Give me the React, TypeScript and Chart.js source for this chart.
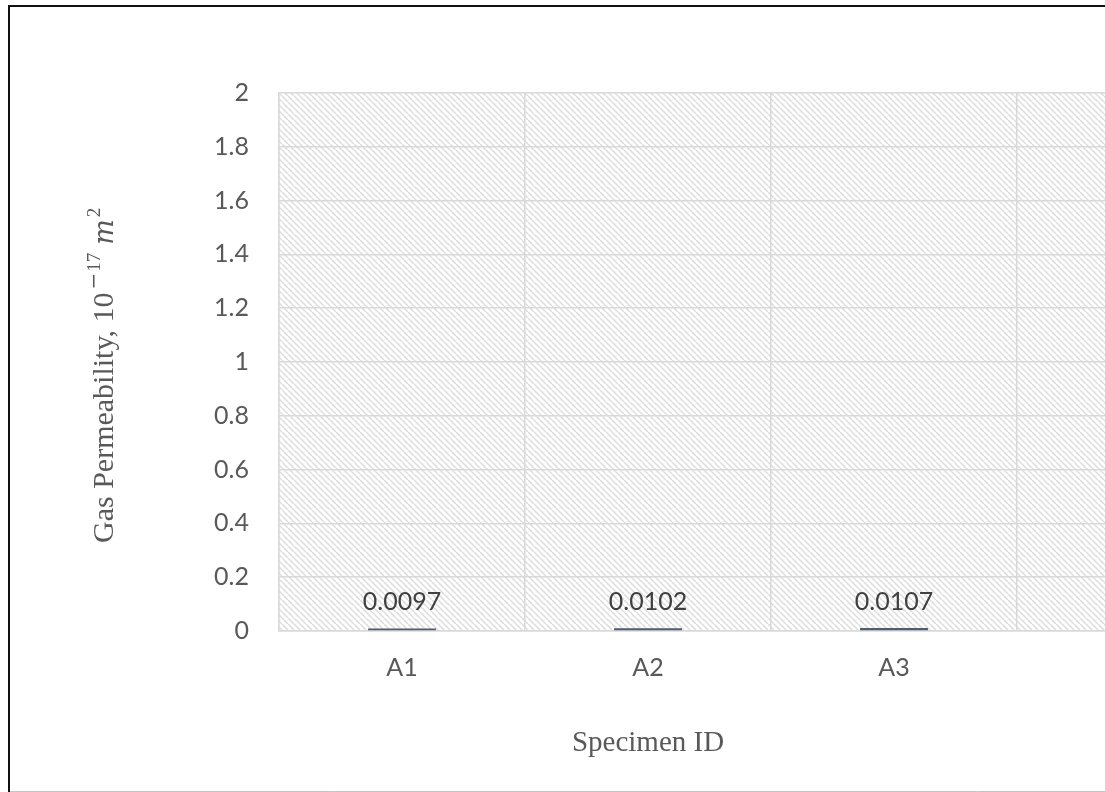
import React, { useEffect, useRef } from "react";
import { Chart, registerables } from "chart.js";

Chart.register(...registerables);

const categories = ["A1", "A2", "A3", ""];
const permeability: (number | null)[] = [0.0097, 0.0102, 0.0107, null];
const valueLabels = ["0.0097", "0.0102", "0.0107", ""];
const yTickLabels = ["0", "0.2", "0.4", "0.6", "0.8", "1", "1.2", "1.4", "1.6", "1.8", "2"];
const xTitle = "Specimen ID";
const yTitleMain = "Gas Permeability, 10";
const yTitleMinus = "\u2212";
const yTitleExp = "17";
const yTitleUnit = "m";
const yTitleUnitExp = "2";

const TEXT = "#595959";
const GRID = "#d9d9d9";
const SANS = "Lato";
const SERIF = "'Liberation Serif'";

const CANVAS_W = 1300;
const CANVAS_H = 792;

function makeHatch(): CanvasPattern | string {
  const t = document.createElement("canvas");
  t.width = 6;
  t.height = 6;
  const c = t.getContext("2d");
  if (!c) return "#eee";
  c.fillStyle = "#ffffff";
  c.fillRect(0, 0, 6, 6);
  c.strokeStyle = "#dcdcdc";
  c.lineWidth = 1.5;
  for (const o of [-6, 0, 6]) {
    c.beginPath();
    c.moveTo(o, 0);
    c.lineTo(o + 6, 6);
    c.stroke();
  }
  const p = c.createPattern(t, "repeat");
  return p || "#eee";
}

const backgroundPlugin = {
  id: "bgHatch",
  beforeDraw(chart: any) {
    const { ctx, chartArea } = chart;
    ctx.save();
    ctx.fillStyle = "#ffffff";
    ctx.fillRect(0, 0, chart.width, chart.height);
    ctx.fillStyle = makeHatch();
    ctx.fillRect(
      chartArea.left,
      chartArea.top,
      chartArea.right - chartArea.left,
      chartArea.bottom - chartArea.top
    );
    ctx.strokeStyle = "#111111";
    ctx.lineWidth = 2;
    ctx.beginPath();
    ctx.moveTo(9, 792);
    ctx.lineTo(9, 6);
    ctx.lineTo(chart.width, 6);
    ctx.stroke();
    ctx.strokeStyle = "#c4c4c4";
    ctx.lineWidth = 1;
    ctx.beginPath();
    ctx.moveTo(10, 791.5);
    ctx.lineTo(chart.width, 791.5);
    ctx.stroke();
    ctx.restore();
  },
};

const labelsPlugin = {
  id: "valueLabels",
  afterDatasetsDraw(chart: any) {
    const { ctx } = chart;
    const meta = chart.getDatasetMeta(0);
    ctx.save();
    ctx.font = `25px ${SANS}`;
    ctx.fillStyle = "#404040";
    ctx.textAlign = "center";
    ctx.textBaseline = "alphabetic";
    meta.data.forEach((el: any, i: number) => {
      if (permeability[i] == null) return;
      ctx.fillText(valueLabels[i], el.x, el.y - 18);
    });
    ctx.restore();
  },
};

const titlesPlugin = {
  id: "axisTitles",
  afterDraw(chart: any) {
    const { ctx } = chart;
    ctx.save();
    ctx.fillStyle = TEXT;
    ctx.textBaseline = "alphabetic";
    ctx.font = `29px ${SERIF}`;
    ctx.textAlign = "center";
    ctx.fillText(xTitle, 648, 751);

    // y title (rotated), reading bottom to top
    const mainFont = `30px ${SERIF}`;
    const supFont = `19px ${SERIF}`;
    const minusFont = `20px 'DejaVu Serif'`;
    const unitFont = `italic 27px 'DejaVu Serif'`;
    ctx.textAlign = "left";
    ctx.translate(113, 543);
    ctx.rotate(-Math.PI / 2);
    let x = 0;
    ctx.font = mainFont;
    ctx.fillText(yTitleMain, x, 0);
    x += ctx.measureText(yTitleMain).width + 3;
    ctx.font = minusFont;
    ctx.fillText(yTitleMinus, x, -13);
    x += ctx.measureText(yTitleMinus).width + 1;
    ctx.font = supFont;
    ctx.fillText(yTitleExp, x, -13);
    x += ctx.measureText(yTitleExp).width + 8;
    ctx.font = unitFont;
    ctx.fillText(yTitleUnit, x, 0);
    x += ctx.measureText(yTitleUnit).width + 2;
    ctx.font = supFont;
    ctx.fillText(yTitleUnitExp, x, -13);
    ctx.restore();
  },
};

export default function App() {
  const ref = useRef<HTMLCanvasElement | null>(null);

  useEffect(() => {
    if (!ref.current) return;
    const chart = new Chart(ref.current, {
      type: "bar",
      data: {
        labels: categories,
        datasets: [
          {
            label: "Gas Permeability",
            data: permeability,
            backgroundColor: "#4f5d73",
            borderWidth: 0,
            categoryPercentage: 1,
            barPercentage: 0.276,
          },
        ],
      },
      options: {
        animation: false,
        responsive: false,
        devicePixelRatio: 1,
        layout: { padding: { top: 93, right: CANVAS_W - 1263, bottom: 0, left: 0 } },
        plugins: {
          legend: { display: false },
          tooltip: { enabled: false },
          title: { display: false },
        },
        scales: {
          x: {
            type: "category",
            grid: { color: GRID, lineWidth: 1.5, drawTicks: false, offset: true },
            border: { color: GRID, width: 1.5 },
            ticks: { font: { family: SANS, size: 25 }, color: TEXT, padding: 22 },
            afterFit: (s: any) => {
              s.height = CANVAS_H - 631;
            },
          },
          y: {
            min: 0,
            max: 2,
            grid: { color: GRID, lineWidth: 1.5, drawTicks: false },
            border: { color: GRID, width: 1.5 },
            ticks: {
              stepSize: 0.2,
              font: { family: SANS, size: 25 },
              color: TEXT,
              padding: 30,
              callback: (_v: any, i: number) => yTickLabels[i],
            },
            afterFit: (s: any) => {
              s.width = 279;
            },
          },
        },
      },
      plugins: [backgroundPlugin, labelsPlugin, titlesPlugin],
    });
    return () => chart.destroy();
  }, []);

  return (
    <div
      style={{
        position: "fixed",
        left: 0,
        top: 0,
        width: 1105,
        height: 792,
        overflow: "hidden",
        background: "#fff",
      }}
    >
      <canvas ref={ref} width={CANVAS_W} height={CANVAS_H} style={{ display: "block" }} />
    </div>
  );
}
